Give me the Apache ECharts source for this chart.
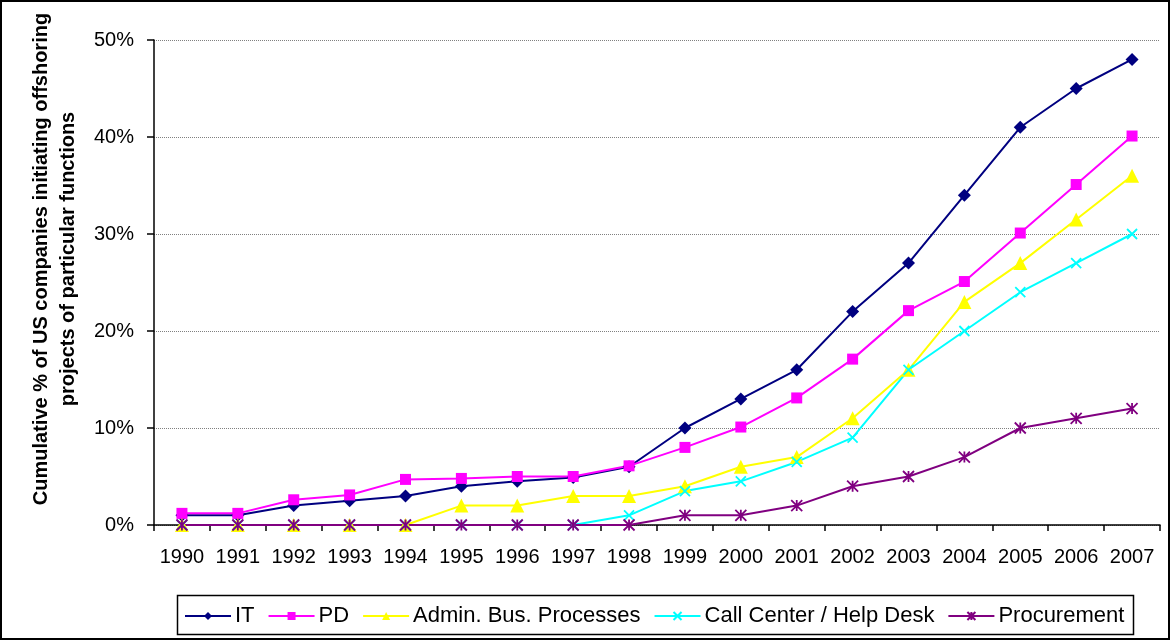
<!DOCTYPE html>
<html>
<head>
<meta charset="utf-8">
<script src="https://cdn.jsdelivr.net/npm/echarts@6/dist/echarts.min.js"></script>
<style>
  html, body { margin: 0; padding: 0; background: #fff; }
  #chart { width: 1176px; height: 642px; }
</style>
</head>
<body>
<div id="chart"></div>
<script>
const FONT = 'Arial, "Liberation Sans", sans-serif';

// data (cumulative %)
const years = ["1990", "1991", "1992", "1993", "1994", "1995", "1996", "1997", "1998",
  "1999", "2000", "2001", "2002", "2003", "2004", "2005", "2006", "2007"];
const itValues = [1, 1, 2, 2.5, 3, 4, 4.5, 4.9, 6, 10, 13, 16, 22, 27, 34, 41, 45, 48];
const pdValues = [1.2, 1.2, 2.6, 3.1, 4.7, 4.8, 5, 5, 6.1, 8, 10.1, 13.1, 17.1, 22.1, 25.1, 30.1, 35.1, 40.1];
const adminValues = [0, 0, 0, 0, 0, 2, 2, 3, 3, 4, 6, 7, 11, 16, 23, 27, 31.5, 36];
const callValues = [0, 0, 0, 0, 0, 0, 0, 0, 1, 3.5, 4.5, 6.5, 9, 16, 20, 24, 27, 30];
const procValues = [0, 0, 0, 0, 0, 0, 0, 0, 0, 1, 1, 2, 4, 5, 7, 10, 11, 12];
const yTicks = { min: 0, max: 50, interval: 10 };

const X_PATH = "path://M0,0L10,10M10,0L0,10";
const STAR_PATH = "path://M0,0L10,10M10,0L0,10M5,0L5,10";

function line(name, data, color, symbol, size, stroked) {
  return {
    name,
    type: "line",
    data,
    symbol,
    symbolSize: size,
    showAllSymbol: true,
    lineStyle: { color, width: 2 },
    itemStyle: stroked
      ? { color, borderColor: color, borderWidth: 1.8 }
      : { color, borderWidth: 0 },
    emphasis: { disabled: true },
    animation: false,
  };
}

const chart = echarts.init(document.getElementById("chart"));
chart.setOption({
  backgroundColor: "#fff",
  textStyle: { fontFamily: FONT },
  grid: { left: 154, right: 16, top: 40, bottom: 117 },
  xAxis: {
    type: "category",
    data: years,
    boundaryGap: true,
    axisLine: { lineStyle: { color: "#000", width: 1.5 } },
    axisTick: { show: true, length: 6, lineStyle: { color: "#000", width: 1.5 } },
    axisLabel: { color: "#000", fontSize: 20, fontFamily: FONT, margin: 22, interval: 0 },
    splitLine: { show: false },
  },
  yAxis: {
    type: "value",
    min: yTicks.min,
    max: yTicks.max,
    interval: yTicks.interval,
    axisLine: { show: true, lineStyle: { color: "#000", width: 1.5 } },
    axisTick: { show: true, length: 7, lineStyle: { color: "#000", width: 1.5 } },
    axisLabel: { color: "#000", fontSize: 20, fontFamily: FONT, margin: 20, formatter: "{value}%" },
    splitLine: { show: true, lineStyle: { color: "#808080", type: "dotted", width: 1 } },
  },
  legend: {
    left: 184,
    top: 605,
    padding: 0,
    itemWidth: 46,
    itemHeight: 10,
    itemGap: 13,
    textStyle: { color: "#000", fontSize: 22, fontFamily: FONT, padding: [0, 0, 0, -1] },
    data: ["IT", "PD", "Admin. Bus. Processes", "Call Center / Help Desk", "Procurement"],
  },
  graphic: [
    {
      type: "rect",
      shape: { x: 1, y: 1, width: 1168, height: 638 },
      style: { fill: null, stroke: "#000", lineWidth: 2 },
      silent: true,
    },
    {
      type: "rect",
      shape: { x: 177.5, y: 595.5, width: 956, height: 39 },
      style: { fill: null, stroke: "#000", lineWidth: 1.5 },
      silent: true,
    },
    {
      type: "text",
      x: 55,
      y: 259,
      rotation: Math.PI / 2,
      silent: true,
      style: {
        text: "Cumulative % of US companies initiating offshoring\nprojects of particular functions",
        font: "bold 20px " + FONT,
        fill: "#000",
        textAlign: "center",
        textVerticalAlign: "middle",
        lineHeight: 27,
      },
    },
  ],
  series: [
    line("IT", itValues, "#000080", "diamond", 13, false),
    line("PD", pdValues, "#FF00FF", "rect", 11, false),
    line("Admin. Bus. Processes", adminValues, "#FFFF00", "triangle", 14, false),
    line("Call Center / Help Desk", callValues, "#00FFFF", X_PATH, 10, true),
    line("Procurement", procValues, "#800080", STAR_PATH, 11, true),
  ],
});
</script>
</body>
</html>
